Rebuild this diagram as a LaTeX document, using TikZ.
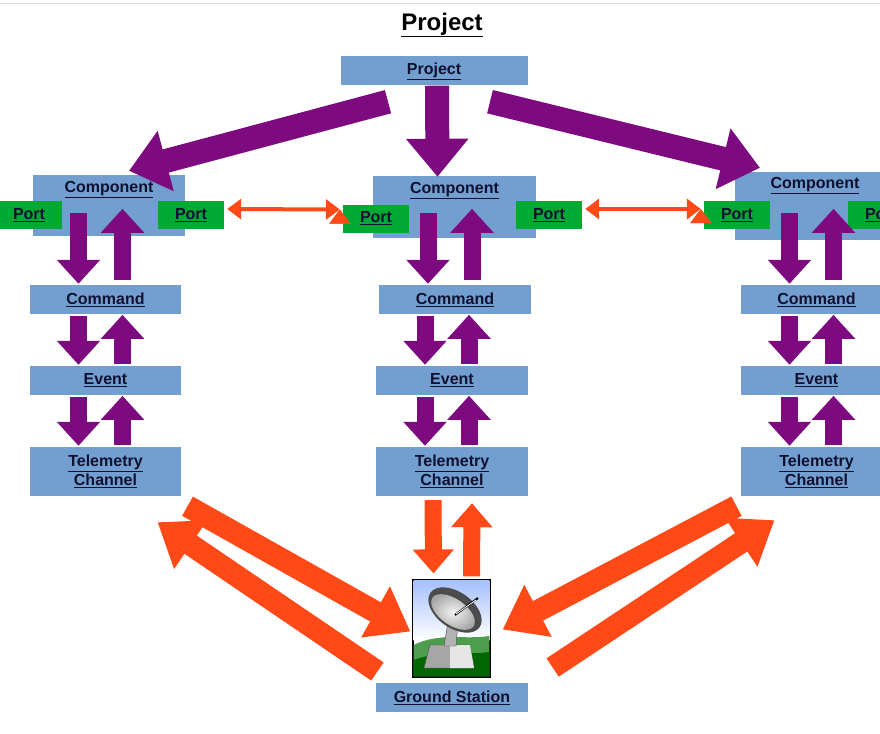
\documentclass[tikz,border=0pt]{standalone}
\usepackage{fontspec}
\setmainfont{Liberation Sans}
\usetikzlibrary{arrows.meta,calc}
\definecolor{boxblue}{HTML}{729FCF}
\definecolor{portgreen}{HTML}{00A933}
\definecolor{bigpurple}{HTML}{7E0A80}
\definecolor{bigorange}{HTML}{FF4A17}
\definecolor{labelink}{HTML}{101030}
\tikzset{
  box/.style={fill=boxblue, text=labelink, font=\bfseries\fontsize{16}{19}\selectfont, align=center, inner sep=0pt},
  port/.style={fill=portgreen, text=labelink, font=\bfseries\fontsize{16}{19}\selectfont, minimum width=66pt, minimum height=28pt, inner sep=0pt},
  colp/.style={bigpurple, line width=17pt, -{Triangle[length=24pt,width=42pt]}},
  bigp/.style={bigpurple, line width=24pt, -{Triangle[length=38pt,width=60pt]}},
  bigo/.style={bigorange, line width=22pt, -{Triangle[length=40pt,width=56pt]}},
  colo/.style={bigorange, line width=17pt, -{Triangle[length=24pt,width=40pt]}},
  thino/.style={bigorange, line width=4pt, {Triangle[length=14pt,width=20pt]}-{Triangle[length=14pt,width=20pt]}}
}
\begin{document}
\begin{tikzpicture}[x=1pt, y=-1pt]
  \useasboundingbox (0,0) rectangle (880,733);
  \draw[black!15] (0,3) -- (880,3);

  % Title and project
  \node[font=\bfseries\fontsize{24}{28}\selectfont, text=black] (title) at (442,25) {\underline{Project}};
  \node[box, minimum width=187pt, minimum height=29pt] (project) at (434,71) {\underline{Project}};

  % Components
  \node[box, minimum width=152pt, minimum height=61pt, text depth=38pt] (compL) at (109,205.5) {\underline{Component}};
  \node[box, minimum width=163pt, minimum height=62pt, text depth=38pt] (compM) at (454.5,207) {\underline{Component}};
  \node[box, minimum width=160pt, minimum height=68pt, text depth=46pt] (compR) at (815,206) {\underline{Component}};

  % Ports
  \node[port] (portL1) at (29,215) {\underline{Port}};
  \node[port] (portL2) at (191,215) {\underline{Port}};
  \node[port] (portM1) at (376,218.5) {\underline{Port}};
  \node[port] (portM2) at (549,215) {\underline{Port}};
  \node[port] (portR1) at (737,215) {\underline{Port}};
  \node[port] (portR2) at (881,215) {\underline{Port}};

  % Commands, events, telemetry
  \node[box, minimum width=151pt, minimum height=29pt] (cmdL) at (105.5,299.5) {\underline{Command}};
  \node[box, minimum width=152pt, minimum height=29pt] (cmdM) at (455,299.5) {\underline{Command}};
  \node[box, minimum width=151pt, minimum height=29pt] (cmdR) at (816.5,299.5) {\underline{Command}};
  \node[box, minimum width=151pt, minimum height=29pt] (evtL) at (105.5,380.5) {\underline{Event}};
  \node[box, minimum width=152pt, minimum height=29pt] (evtM) at (452,380.5) {\underline{Event}};
  \node[box, minimum width=151pt, minimum height=29pt] (evtR) at (816.5,380.5) {\underline{Event}};
  \node[box, minimum width=151pt, minimum height=49pt] (telL) at (105.5,471.5) {\underline{Telemetry}\\\underline{Channel}};
  \node[box, minimum width=152pt, minimum height=49pt] (telM) at (452,471.5) {\underline{Telemetry}\\\underline{Channel}};
  \node[box, minimum width=151pt, minimum height=49pt] (telR) at (816.5,471.5) {\underline{Telemetry}\\\underline{Channel}};

  % Ground station
  \node[draw=black, line width=1.2pt, minimum width=77pt, minimum height=97pt, inner sep=0pt] (gs) at (451.5,628.5) {};
  \node[box, minimum width=152pt, minimum height=29pt] (gsl) at (452,697.5) {\underline{Ground Station}};
  \shade[top color=cyan!30!blue!35, bottom color=white] (413.6,580.6) rectangle (489.4,640);
  \fill[green!45!black!70] (413.6,645) .. controls (440,632) and (465,640) .. (489.4,636) -- (489.4,676.4) -- (413.6,676.4) -- cycle;
  \fill[green!40!black] (413.6,660) .. controls (440,650) and (470,655) .. (489.4,652) -- (489.4,676.4) -- (413.6,676.4) -- cycle;
  \fill[gray!70, draw=black!70] (424,668) -- (430,645) -- (470,645) -- (474,668) -- cycle;
  \fill[gray!20] (450,645) -- (470,645) -- (474,668) -- (450,668) -- cycle;
  \fill[gray!60, draw=black!70] (444,646) -- (448,622) -- (458,622) -- (456,646) -- cycle;
  \fill[black!70, rotate around={-35:(455,610)}] (455,610) ellipse (30pt and 18pt);
  \shade[inner color=gray!10, outer color=gray!70, rotate around={-35:(453,612)}] (453,612) ellipse (25pt and 13pt);
  \draw[black, line width=2pt] (455,615) -- (478,598);
  \draw[white, line width=0.8pt] (456,614) -- (476,600);

  % Project to components
  \draw[bigp] ($(project.south)+(-46,16)$) -- ($(compL.north)+(20,-4)$);
  \draw[bigp] ($(project.south)+(3,0)$) -- ($(compM.north)+(-17,1)$);
  \draw[bigp] ($(project.south)+(56,16)$) -- ($(compR.north)+(-55,-4)$);

  % Column arrows
  \foreach \c in {L,M,R} {
    \draw[colp] ($(cmd\c.north)+(-27,-72)$) -- ($(cmd\c.north)+(-27,-1)$);
    \draw[colp] ($(cmd\c.north)+(17,-5)$) -- ($(cmd\c.north)+(17,-76)$);
    \draw[colp] ($(evt\c.north)+(-27,-50)$) -- ($(evt\c.north)+(-27,-1)$);
    \draw[colp] ($(evt\c.north)+(17,-2)$) -- ($(evt\c.north)+(17,-51)$);
    \draw[colp] ($(tel\c.north)+(-27,-50)$) -- ($(tel\c.north)+(-27,-1)$);
    \draw[colp] ($(tel\c.north)+(17,-2)$) -- ($(tel\c.north)+(17,-51)$);
  }

  % Port links
  \draw[thino] (portL2.east) ++(3,-6) coordinate (pa) (portM1.west) ++(-3,-9) coordinate (pb);
  \draw[thino] (pa) -- (pb);
  \draw[thino] (portM2.east) ++(3,-6) coordinate (pc) (portR1.west) ++(-3,-6) coordinate (pd);
  \draw[thino] (pc) -- (pd);

  % Telemetry to ground station
  \draw[colo] ($(telM.south)+(-19,4)$) -- ($(gs.north)+(-18,-6)$);
  \draw[colo] ($(gs.north)+(20,-3)$) -- ($(telM.south)+(20,7)$);
  \draw[bigo] ($(telL.south)+(82,10)$) -- ($(gs.west)+(-2,3)$);
  \draw[bigo] ($(gs.west)+(-35,43)$) -- ($(telL.south)+(52,26)$);
  \draw[bigo] ($(telR.south)+(-80,10)$) -- ($(gs.east)+(12,1)$);
  \draw[bigo] ($(gs.east)+(62,39)$) -- ($(telR.south)+(-42,24)$);
\end{tikzpicture}
\end{document}
